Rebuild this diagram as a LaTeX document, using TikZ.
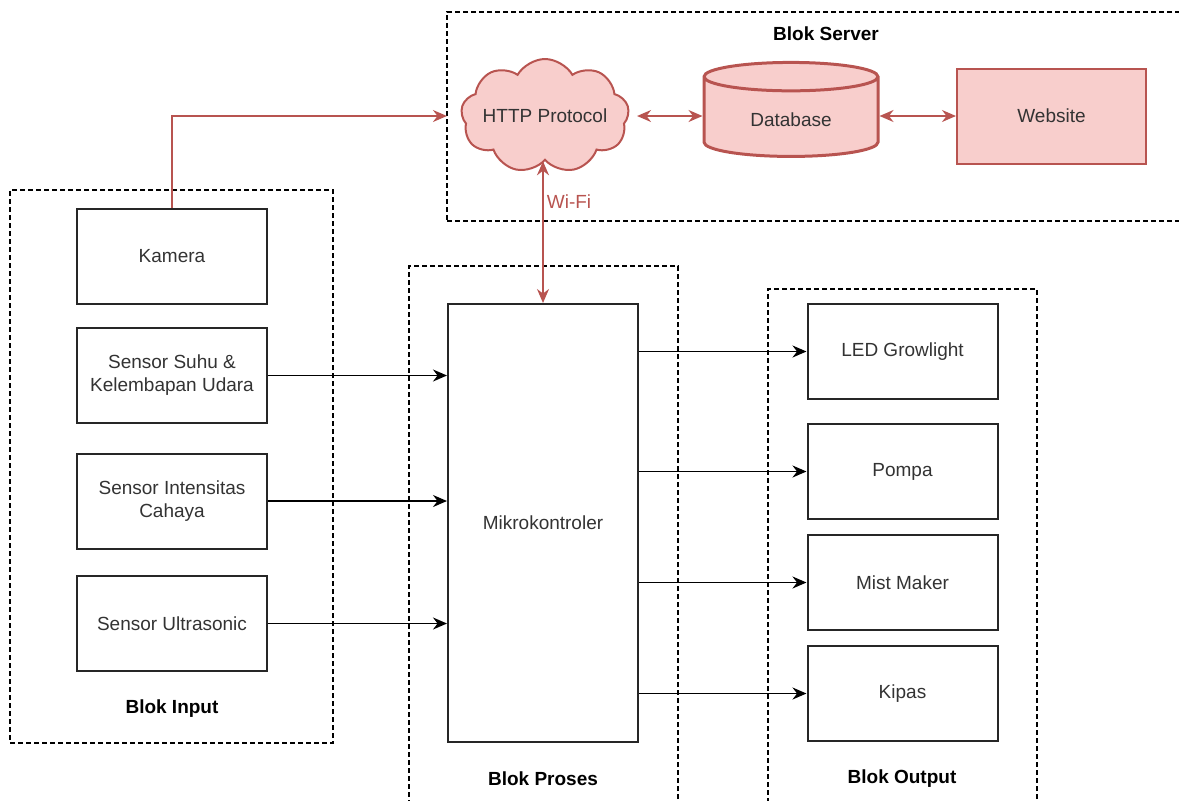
\documentclass[tikz,border=0pt]{standalone}
\usepackage{fontspec}
\setmainfont{Liberation Sans}
\usepackage{tikz}
\usetikzlibrary{positioning,shapes.geometric,shapes.symbols,arrows.meta}
\definecolor{srvline}{HTML}{B85450}
\definecolor{srvfill}{HTML}{F8CECC}
\definecolor{txtgray}{HTML}{333333}

\begin{document}
\begin{tikzpicture}[x=0.5pt,y=-0.5pt,
			font=\fontsize{9.5}{11.5}\selectfont,
			block/.style={rectangle, draw=black!85, line width=1pt, minimum width=95pt, minimum height=47.5pt, text=txtgray, align=center},
			group/.style={rectangle, draw=black, dash pattern=on 2.5pt off 1.5pt, line width=0.7pt},
			grouplabel/.style={font=\fontsize{9.5}{11.5}\selectfont\bfseries},
			server/.style={draw=srvline, fill=srvfill, line width=1pt, text=txtgray},
			link/.style={line width=0.8pt, -{Stealth[length=7pt,width=6pt]}},
			srvlink/.style={draw=srvline, line width=0.8pt, {Stealth[length=7pt,width=6pt]}-{Stealth[length=7pt,width=6pt]}},
			]
			\useasboundingbox (0,0) rectangle (1179,800);
			%Groups
				\node[group, minimum width=369pt, minimum height=104.5pt]		(grp-server)	at (816,116.5)		{};
				\node[group, minimum width=161.5pt, minimum height=276.5pt]		(grp-input)		at (171.5,466.5)	{};
				\node[group, minimum width=134.5pt, minimum height=272pt]		(grp-proses)	at (543.5,538)		{};
				\node[group, minimum width=134.5pt, minimum height=260.5pt]		(grp-output)	at (902.5,549.5)	{};
				\node[grouplabel]		(lbl-server)	at (826,34)		{Blok Server};
				\node[grouplabel]		(lbl-input)		at (172,709)	{Blok Input};
				\node[grouplabel]		(lbl-proses)	at (543,779)	{Blok Proses};
				\node[grouplabel]		(lbl-output)	at (902,779)	{Blok Output};

			%Nodes
				\node[server, cloud, cloud puffs=9, cloud puff arc=120, inner sep=0pt, minimum width=84pt, minimum height=57pt,
					label={[text=txtgray]center:HTTP Protocol}]		(http)	at (545,116)	{};
				\node[server, cylinder, shape border rotate=90, aspect=0.3, line width=1.5pt, minimum width=87pt, minimum height=47pt]		(db)	at (791,120)	{Database};
				\node[server, rectangle, minimum width=94.5pt, minimum height=47.5pt]		(web)	at (1051.5,116)	{Website};

				\node[block]		(kamera)	at (172,256.5)		{Kamera};
				\node[block]		(suhu)		at (172,375.5)		{Sensor Suhu \&\\Kelembapan Udara};
				\node[block]		(cahaya)	at (172,501)		{Sensor Intensitas\\Cahaya};
				\node[block]		(ultra)		at (172,623.5)		{Sensor Ultrasonic};

				\node[block, minimum height=219pt]		(mikro)	at (543,523)	{Mikrokontroler};

				\node[block]		(led)		at (902.5,351.5)	{LED Growlight};
				\node[block]		(pompa)		at (902.5,471.5)	{Pompa};
				\node[block]		(mist)		at (902.5,582.5)	{Mist Maker};
				\node[block]		(kipas)		at (902.5,693.5)	{Kipas};

				\node[text=srvline]		(wifi)	at (569,202)	{Wi-Fi};

			%Lines
				\draw[srvlink, {}-{Stealth[length=7pt,width=6pt]}, shorten >=7pt] (kamera.north) |- (http.west);
				\draw[srvlink, shorten <=4pt] (http.east) -- (db.west |- http.east);
				\draw[srvlink] (db.east |- web.west) -- (web.west);
				\draw[srvlink] (http.south -| mikro.north) -- (mikro.north);

				\draw[link] (suhu.east) -- (suhu.east -| mikro.west);
				\draw[link] (cahaya.east) -- (cahaya.east -| mikro.west);
				\draw[link] (ultra.east) -- (ultra.east -| mikro.west);

				\draw[link] (mikro.east |- led.west) -- (led.west);
				\draw[link] (mikro.east |- pompa.west) -- (pompa.west);
				\draw[link] (mikro.east |- mist.west) -- (mist.west);
				\draw[link] (mikro.east |- kipas.west) -- (kipas.west);
		\end{tikzpicture}
\end{document}
